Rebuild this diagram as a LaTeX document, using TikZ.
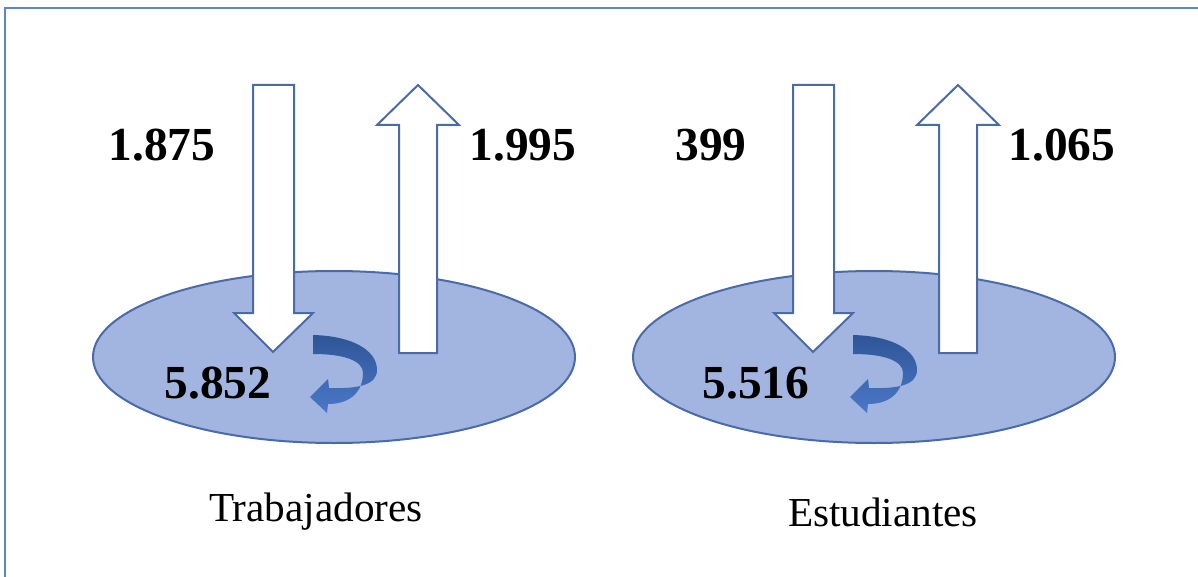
\documentclass[tikz,border=0pt]{standalone}
\usepackage{fontspec}
\setmainfont{Liberation Serif}
\usetikzlibrary{calc}
\definecolor{frameblue}{HTML}{5B86CC}
\definecolor{poolfill}{HTML}{A1B5E0}
\definecolor{pooledge}{HTML}{4A6AA8}
\definecolor{loopdark}{HTML}{2F5597}
\definecolor{looplight}{HTML}{4A78C8}

\begin{document}
\begin{tikzpicture}[x=0.5pt,y=-0.5pt,
    pool/.style={fill=poolfill, draw=pooledge, line width=1pt},
    flow/.style={fill=white, draw=pooledge, line width=1pt, line join=miter},
    num/.style={font=\fontsize{23.7}{26}\selectfont\bfseries, inner sep=0pt},
    caption/.style={font=\fontsize{20.6}{23}\selectfont, inner sep=0pt}]
    \useasboundingbox (0,0) rectangle (1198,577);
    \draw[frameblue, line width=1pt] (5,577) -- (5,8) -- (1198,8);
    \foreach \dx/\inx/\inval/\outx/\outval/\stayx/\stayval/\capx/\capval/\id in
      {0/162/1.875/523/1.995/218/5.852/316/Trabajadores/T,
       540/711/399/1062/1.065/756/5.516/883/Estudiantes/E} {
      \begin{scope}[xshift=\dx*0.5pt]
        \draw[pool] (334,357) ellipse [x radius=241, y radius=86];
        % arrow going in
        \draw[flow] (253,85) -- (294,85) -- (294,313) -- (313,313) -- (273,352)
          -- (234,313) -- (253,313) -- cycle;
        % arrow going out
        \draw[flow] (399,353) -- (399,125) -- (377,125) -- (418,85) -- (459,125)
          -- (437,125) -- (437,353) -- cycle;
        % staying inside
        \shade[top color=loopdark, bottom color=looplight]
          (313,335) .. controls (352,336) and (377,350) .. (377,370)
          .. controls (377,385) and (358,389) .. (329,388)
          -- (328,379) -- (310,397) -- (327,413) -- (328,404)
          .. controls (352,404) and (363,390) .. (363,373)
          .. controls (363,361) and (345,354) .. (313,354) -- cycle;
      \end{scope}
      \node[num] (in\id) at (\inx,145) {\inval};
      \node[num] (out\id) at (\outx,145) {\outval};
      \node[num] (stay\id) at (\stayx,383) {\stayval};
      \node[caption] (cap\id) at (\capx,512) {\capval};
    }
\end{tikzpicture}
\end{document}
